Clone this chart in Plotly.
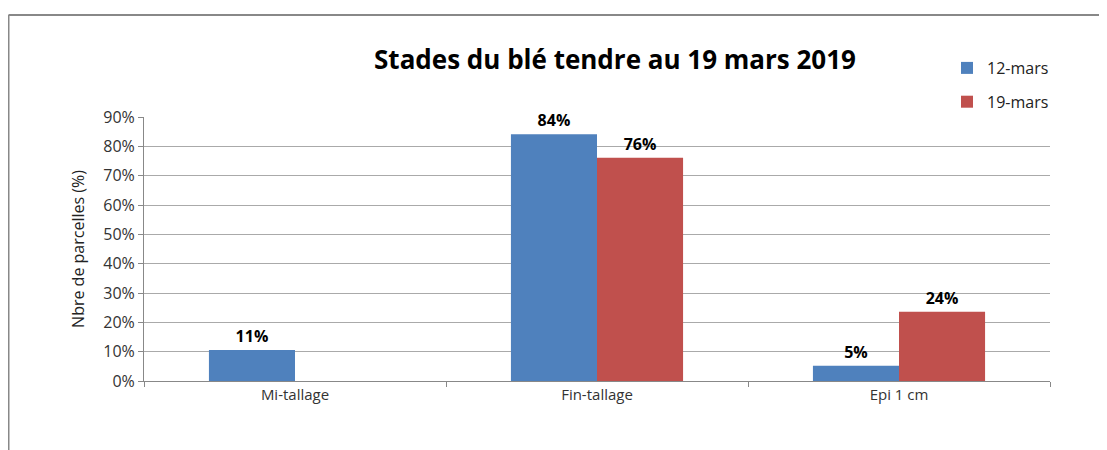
import plotly.graph_objects as go

categories = ["Mi-tallage", "Fin-tallage", "Epi 1 cm"]
series_names = ["12-mars", "19-mars"]
values_12 = [0.106, 0.841, 0.052]
values_19 = [0.0, 0.761, 0.236]
colors = ["#4F81BD", "#C0504D"]
y_ticks = [0, 0.1, 0.2, 0.3, 0.4, 0.5, 0.6, 0.7, 0.8, 0.9]

FONT = "Open Sans"
OFF = 8  # page body margin

W, H = 1107, 450
# target page pixel positions of the plot area
PL, PR, PT, PB = 144, 1050, 117, 381
L = PL - OFF
T = PT - OFF
R = W - (PR - OFF)
B = H - (PB - OFF)
pw, ph = W - L - R, H - T - B


def px_x(p):
    return (p - OFF - L) / pw


def px_y(p):
    return (H - B - (p - OFF)) / ph


fig = go.Figure()
for name, vals, col, grp in zip(series_names, [values_12, values_19], colors, ["a", "b"]):
    fig.add_trace(go.Bar(
        x=categories, y=vals, name=name, marker_color=col,
        marker_line_width=0, legendgroup=grp,
        text=[f"{v:.0%}" if v else "" for v in vals],
        textposition="outside", cliponaxis=False,
        textfont=dict(family=FONT, size=16, color="#000000", weight="bold"),
    ))

fig.update_layout(
    width=W, height=H,
    margin=dict(l=L, r=R, t=T, b=B),
    paper_bgcolor="white", plot_bgcolor="white",
    barmode="group", bargap=0.43, bargroupgap=0,
    font=dict(family=FONT, size=14, color="#333333"),
    title=dict(text="<b>Stades du blé tendre au 19 mars 2019</b>",
               x=(615 - OFF) / W, xanchor="center", y=1 - (60 - OFF) / H, yanchor="middle",
               font=dict(family=FONT, size=26, color="#000000")),
    legend=dict(x=px_x(947), y=px_y(51), xanchor="left", yanchor="top",
                font=dict(family=FONT, size=16, color="#222222"),
                tracegroupgap=10, itemwidth=30, bgcolor="rgba(0,0,0,0)"),
    showlegend=True,
    xaxis=dict(showline=True, linecolor="#888888", linewidth=1,
               ticks="outside", tickson="boundaries", ticklen=5, tickcolor="#888888",
               showgrid=False, tickfont=dict(size=15, color="#333333")),
    yaxis=dict(range=[0, 0.9], tickvals=y_ticks, tickformat=".0%",
               showline=True, linecolor="#888888", linewidth=1,
               ticks="outside", ticklen=5, tickcolor="#888888",
               showgrid=True, gridcolor="#AAAAAA", gridwidth=1,
               zeroline=False,
               title=dict(text="Nbre de parcelles (%)", standoff=14,
                          font=dict(size=16, color="#222222")),
               tickfont=dict(size=16, color="#333333")),
    shapes=[
        dict(type="line", xref="paper", yref="paper",
             x0=px_x(8.5), x1=px_x(1115), y0=px_y(15), y1=px_y(15),
             line=dict(color="#888888", width=2)),
        dict(type="line", xref="paper", yref="paper",
             x0=px_x(8.5), x1=px_x(8.5), y0=px_y(15), y1=px_y(470),
             line=dict(color="#888888", width=2)),
    ],
)

fig.write_html("out.html")
